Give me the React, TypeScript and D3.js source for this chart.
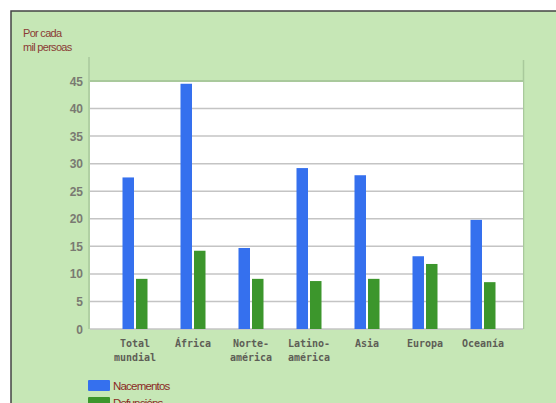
import React from "react";
import * as d3 from "d3";

const categories: string[][] = [
  ["Total", "mundial"],
  ["África"],
  ["Norte-", "américa"],
  ["Latino-", "américa"],
  ["Asia"],
  ["Europa"],
  ["Oceanía"],
];
const nacementos = [27.5, 44.5, 14.7, 29.2, 27.9, 13.2, 19.8];
const defuncions = [9.1, 14.2, 9.1, 8.7, 9.1, 11.8, 8.5];
const yTicks = [0, 5, 10, 15, 20, 25, 30, 35, 40, 45];
const seriesNames = ["Nacementos", "Defuncións"];

const W = 556;
const H = 403;
const BG = "#c6e7b6";
const BLUE = "#3570ee";
const GREEN = "#3c962c";

export default function App() {
  const plotL = 90;
  const plotR = 523;
  const plotT = 81;
  const plotB = 329;

  const y = d3.scaleLinear().domain([0, 45]).range([plotB, plotT]);
  const keys = categories.map((c) => c.join(" "));
  const x = d3.scaleBand<string>().domain(keys).range([106, 512]).padding(0);
  const barW = 11.5;
  const gap = 2;

  return (
    <svg
      width={W}
      height={H}
      style={{ position: "absolute", left: 0, top: 0 }}
      fontFamily="'Liberation Sans', Arial, sans-serif"
    >
      <rect x={0} y={0} width={W} height={H} fill="#ffffff" />
      <rect x={11} y={11} width={W} height={H} fill={BG} stroke="#444" strokeWidth={1.5} />

      {/* unit caption */}
      <text x={23} y={37} fontSize={11} fill="#8a3b35" letterSpacing={-0.7}>
        Por cada
      </text>
      <text x={23} y={51} fontSize={11} fill="#8a3b35" letterSpacing={-0.7}>
        mil persoas
      </text>

      {/* frame walls above the plot */}
      <line x1={89} x2={89} y1={57} y2={plotB} stroke="#a9c99c" strokeWidth={1.5} />
      <line x1={plotR + 0.5} x2={plotR + 0.5} y1={60} y2={plotB} stroke="#a9c99c" strokeWidth={1.5} />

      {/* plot background */}
      <rect x={plotL} y={plotT} width={plotR - plotL} height={plotB - plotT} fill="#ffffff" />

      {/* gridlines */}
      {yTicks.map((t) => (
        <line
          key={"g" + t}
          x1={plotL}
          x2={plotR}
          y1={y(t)}
          y2={y(t)}
          stroke={t === 45 ? "#a9c99c" : "#c4c4c4"}
          strokeWidth={t === 45 ? 2 : 1.5}
        />
      ))}

      {/* y tick labels */}
      {yTicks.map((t) => (
        <text
          key={"t" + t}
          x={83}
          y={y(t) + 4.5}
          fontSize={12}
          fontWeight="bold"
          fill="#7a7a72"
          textAnchor="end"
        >
          {t}
        </text>
      ))}

      {/* bars */}
      {keys.map((k, i) => {
        const cx = (x(k) ?? 0) + x.bandwidth() / 2;
        return (
          <g key={k}>
            <rect
              x={cx - gap / 2 - barW}
              y={y(nacementos[i])}
              width={barW}
              height={plotB - y(nacementos[i])}
              fill={BLUE}
            />
            <rect
              x={cx + gap / 2}
              y={y(defuncions[i])}
              width={barW}
              height={plotB - y(defuncions[i])}
              fill={GREEN}
            />
          </g>
        );
      })}

      {/* category labels */}
      {categories.map((lines, i) => {
        const cx = (x(keys[i]) ?? 0) + x.bandwidth() / 2;
        return (
          <text
            key={"c" + i}
            x={cx}
            y={347}
            fontSize={10}
            fontFamily="'DejaVu Sans Mono', monospace"
            fontWeight="bold"
            fill="#5e5e56"
            textAnchor="middle"
          >
            {lines.map((l, j) => (
              <tspan key={j} x={cx} dy={j === 0 ? 0 : 14}>
                {l}
              </tspan>
            ))}
          </text>
        );
      })}

      {/* legend */}
      {seriesNames.map((s, i) => (
        <g key={s} transform={`translate(88, ${380 + i * 17})`}>
          <rect x={0} y={0} width={22} height={11} fill={i === 0 ? BLUE : GREEN} rx={1} />
          <text x={25} y={10} fontSize={11.5} fill="#8a2a25" letterSpacing={-0.8}>
            {s}
          </text>
        </g>
      ))}
    </svg>
  );
}
